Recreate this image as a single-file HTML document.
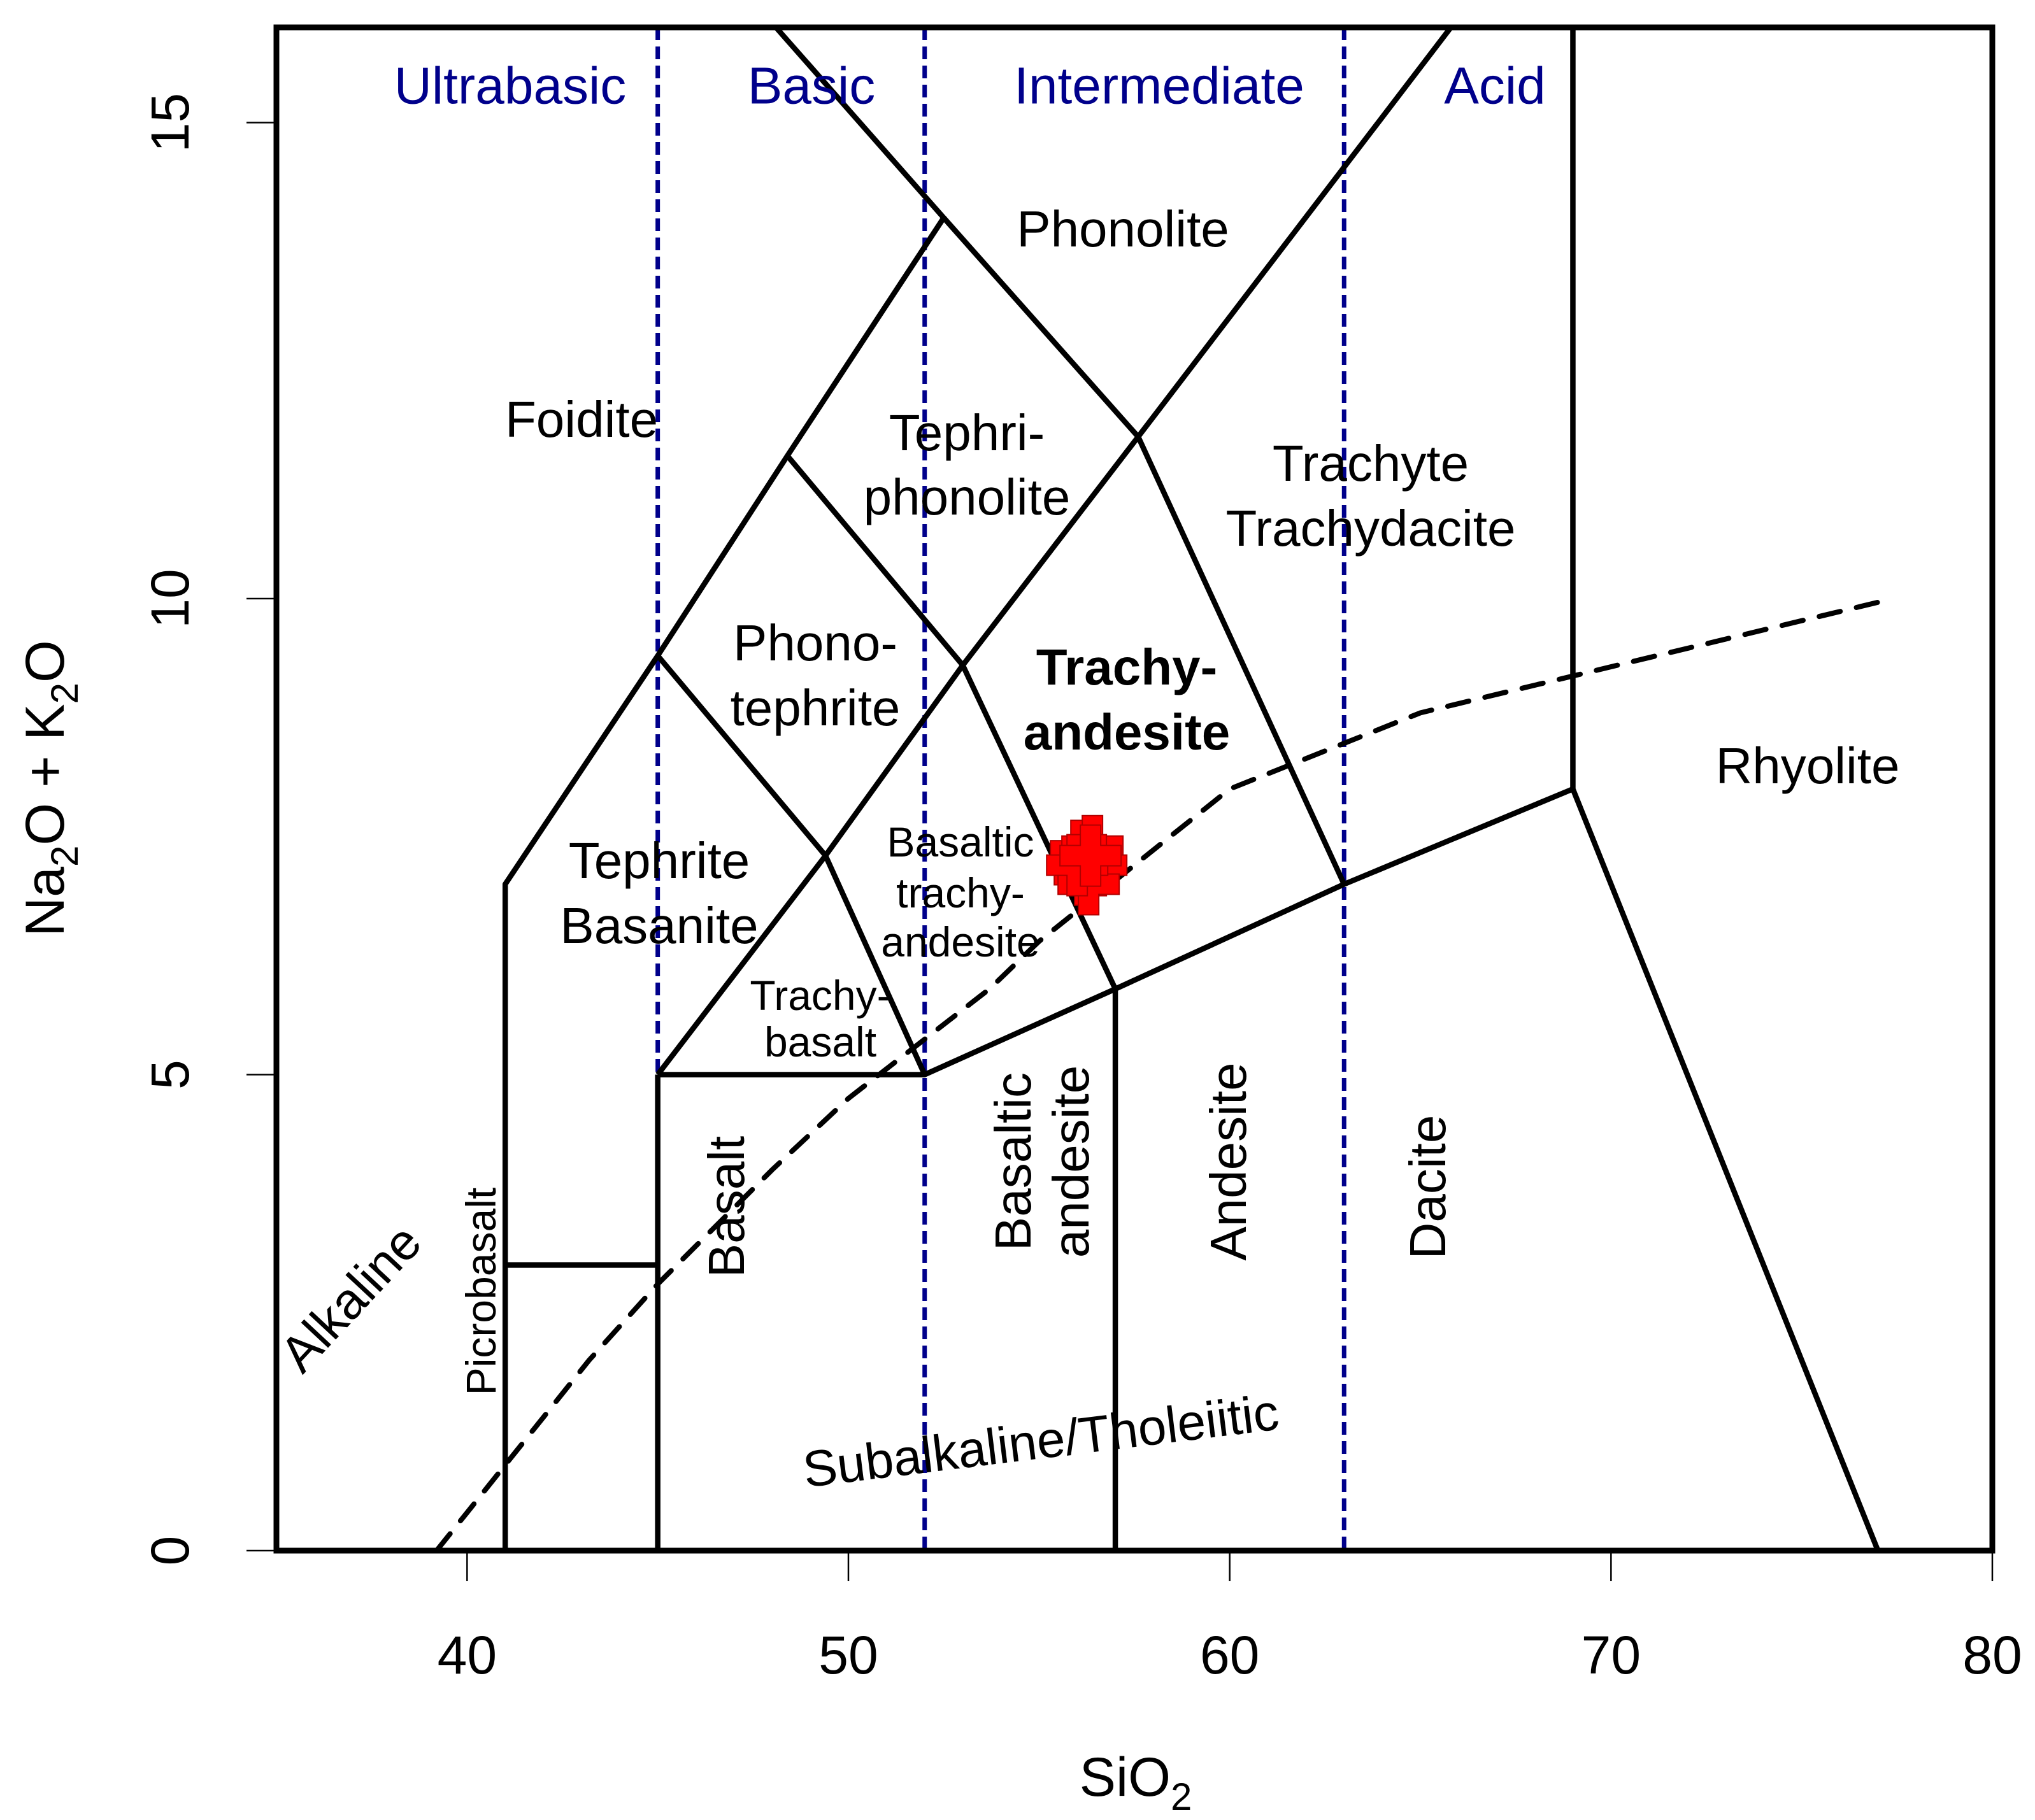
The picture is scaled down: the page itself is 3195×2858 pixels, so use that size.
<!DOCTYPE html>
<html><head><meta charset="utf-8"><style>
html,body{margin:0;padding:0;background:#fff}
svg{display:block}
text{font-family:"Liberation Sans",sans-serif}
</style></head><body>
<svg id="chart" width="3195" height="2858" viewBox="0 0 3195 2858" xmlns="http://www.w3.org/2000/svg">
<g id="grid"></g>
<g id="labels"></g>
</svg>
<script>
const xTicks=[40,50,60,70,80];
const yTicks=[0,5,10,15];
const fieldLines=[
 [[41,0],[41,7],[45,9.4],[48.4,11.5],[52.5,14],[48.1,16]],
 [[52.5,14],[57.6,11.7],[65.8,16]],
 [[48.4,11.5],[53,9.3],[57.6,11.7]],
 [[45,9.4],[49.4,7.3],[53,9.3]],
 [[45,5],[49.4,7.3],[52,5]],
 [[53,9.3],[57,5.9]],
 [[57.6,11.7],[63,7]],
 [[45,5],[52,5],[57,5.9],[63,7],[69,8]],
 [[57,0],[57,5.9]],
 [[69,16],[69,8],[77,0]],
 [[41,3],[45,3]],
 [[45,0],[45,5]]
];
const divisionX=[45,52,63];
const alkX=[39.2,40,43.2,45,48,50,53.7,55,60,65,77.4];
const alkY=[0,0.4,2,2.8,4,4.75,5.9,6.4,8,8.8,10];
const sampleX=[56.1,56.4,56.2,56.5,56.3,56.0,56.35];
const sampleY=[7.35,7.4,7.1,7.2,7.0,7.2,7.3];

const L=434,R=3128,B=2435;
const X=v=>L+(v-35)*(R-L)/45;
const Y=v=>B-v*149.5;
const T=Y(16);
const NS="http://www.w3.org/2000/svg";
const g=document.getElementById('grid'), lab=document.getElementById('labels');
function mk(tag,attrs,parent){const e=document.createElementNS(NS,tag);for(const k in attrs)e.setAttribute(k,attrs[k]);(parent||g).appendChild(e);return e;}

divisionX.forEach(v=>{const e=mk('line',{x1:X(v),x2:X(v),y1:T,y2:B,stroke:'#00008b','stroke-width':7,'stroke-dasharray':'20 10'});

});
fieldLines.forEach(pl=>{const e=mk('polyline',{points:pl.map(p=>X(p[0])+','+Y(p[1])).join(' '),fill:'none',stroke:'#000','stroke-width':8.5,'stroke-linejoin':'round'});

});
{const e=mk('polyline',{points:alkX.map((x,i)=>X(x)+','+Y(alkY[i])).join(' '),fill:'none',stroke:'#000','stroke-width':8,'stroke-dasharray':'34 26','stroke-linecap':'round'});

}
sampleX.forEach((x,i)=>{const cx=X(x),cy=Y(sampleY[i]);
const e=mk('path',{d:`M${cx-16},${cy-48}h32v32h32v32h-32v32h-32v-32h-32v-32h32z`,fill:'#ff0000',stroke:'#b00000','stroke-width':2});

});
{const e=mk('rect',{x:L,y:T,width:R-L,height:B-T,fill:'none',stroke:'#000','stroke-width':9});

}
xTicks.forEach(v=>{const t=mk('line',{x1:X(v),x2:X(v),y1:B,y2:B+48,stroke:'#000','stroke-width':2.5});


const e=mk('text',{x:X(v),y:2628,'font-size':84,'text-anchor':'middle'});e.textContent=v;

});
yTicks.forEach(v=>{const t=mk('line',{x1:387,x2:L,y1:Y(v),y2:Y(v),stroke:'#000','stroke-width':2.5});


const cx=267,cy=Y(v);
const e=mk('text',{x:cx,y:cy+29,'font-size':84,'text-anchor':'middle',transform:`rotate(-90 ${cx} ${cy})`});e.textContent=v;

});

function txt(s,cx,cy,fs,name,opt){opt=opt||{};
const a={x:cx,y:cy+fs*0.35,'font-size':fs,'text-anchor':'middle',fill:opt.fill||'#000'};
if(opt.rot)a.transform=`rotate(${opt.rot} ${cx} ${cy})`;
if(opt.bold)a['font-weight']='bold';
const e=mk('text',a,lab);e.textContent=s;

return e;}
const NAVY='#00008b';
txt('Ultrabasic',801,134,82,'ultrabasic-label',{fill:NAVY});
txt('Basic',1274,134,82,'basic-label',{fill:NAVY});
txt('Intermediate',1820,134,82,'intermediate-label',{fill:NAVY});
txt('Acid',2347,134,82,'acid-label',{fill:NAVY});
txt('Phonolite',1763,359,80,'phonolite-label');
txt('Foidite',913,658,80,'foidite-label');
txt('Tephri-',1518,679,80,'tephriphonolite-label');
txt('phonolite',1518,780,80,'tephriphonolite-label');
txt('Trachyte',2152,727,80,'trachyte-label');
txt('Trachydacite',2152,829,80,'trachydacite-label');
txt('Phono-',1280,1009,80,'phonotephrite-label');
txt('tephrite',1280,1111,80,'phonotephrite-label');
txt('Trachy-',1769,1047,80,'trachyandesite-label',{bold:true});
txt('andesite',1769,1149,80,'trachyandesite-label',{bold:true});
txt('Rhyolite',2838,1202,80,'rhyolite-label');
txt('Tephrite',1035,1351,80,'tephrite-label');
txt('Basanite',1035,1453,80,'basanite-label');
txt('Basaltic',1508,1322,66,'basaltic-trachyandesite-label');
txt('trachy-',1508,1402,66,'basaltic-trachyandesite-label');
txt('andesite',1508,1479,66,'basaltic-trachyandesite-label');
txt('Trachy-',1288,1563,66,'trachybasalt-label');
txt('basalt',1288,1636,66,'trachybasalt-label');
txt('Basalt',1140,1895,80,'basalt-label',{rot:-90});
txt('Basaltic',1590,1824,80,'basaltic-andesite-label',{rot:-90});
txt('andesite',1681,1824,80,'basaltic-andesite-label',{rot:-90});
txt('Andesite',1928,1824,80,'andesite-label',{rot:-90});
txt('Dacite',2241,1864,80,'dacite-label',{rot:-90});
txt('Picrobasalt',755,2028,66,'picrobasalt-label',{rot:-90});
txt('Alkaline',550,2038,80,'alkaline-label',{rot:-47});
txt('Subalkaline/Tholeiitic',1634,2262,80,'subalkaline-label',{rot:-7});
{const e=mk('text',{x:1783,y:2820,'font-size':86,'text-anchor':'middle'},lab);
e.innerHTML='SiO<tspan font-size="60" dy="22">2</tspan>';

}
{const cx=70,cy=1238;const e=mk('text',{x:cx,y:cy+30,'font-size':86,'text-anchor':'middle',transform:`rotate(-90 ${cx} ${cy})`},lab);
e.innerHTML='Na<tspan font-size="60" dy="22">2</tspan><tspan dy="-22">O + K</tspan><tspan font-size="60" dy="22">2</tspan><tspan dy="-22">O</tspan>';

}
</script>
</body></html>
